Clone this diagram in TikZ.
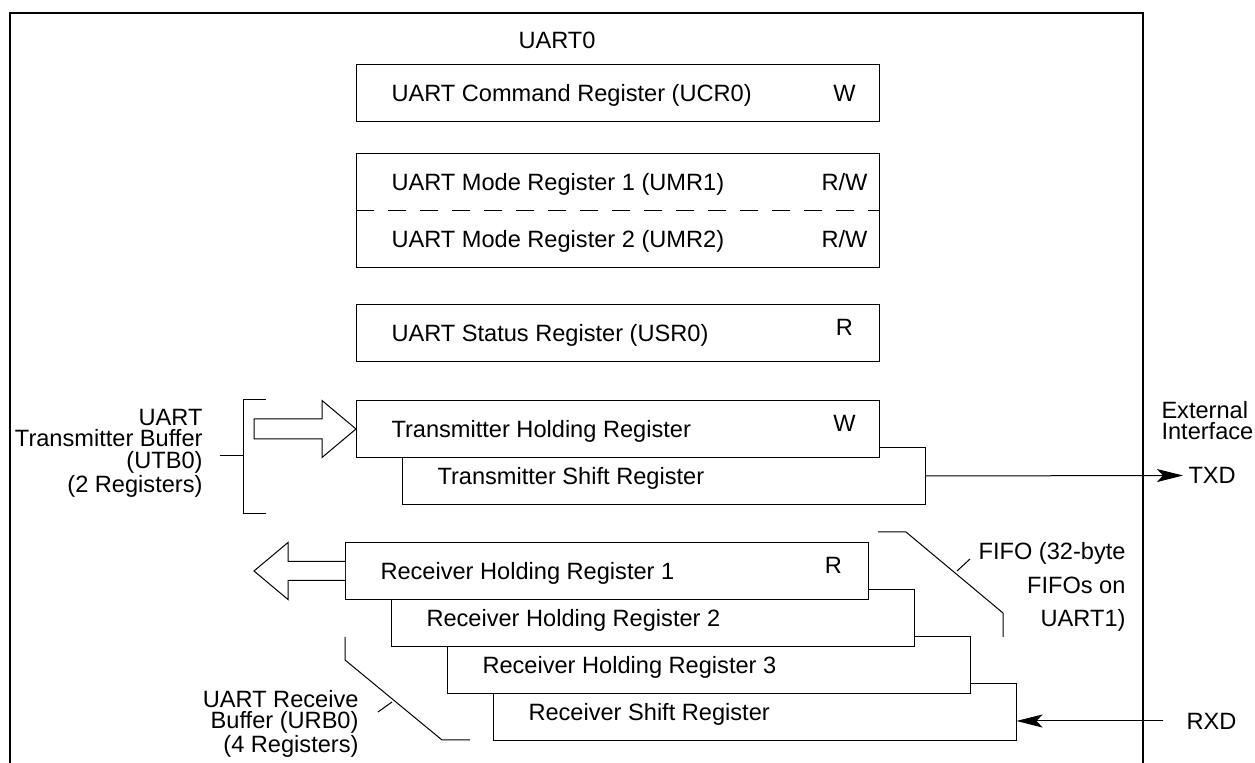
\documentclass[tikz,border=0pt]{standalone}
\usepackage{fontspec}
\setmainfont{Liberation Sans}
\usetikzlibrary{arrows.meta}

\tikzset{
  reg/.style={draw, fill=white, anchor=north west, inner sep=0pt,
    minimum width=261.25pt, minimum height=28.5pt},
  regname/.style={anchor=west, inner sep=0pt, text height=8.45pt, text depth=0pt},
  access/.style={inner sep=0pt, text height=8.45pt, text depth=0pt},
  sidelabel/.style={align=right, anchor=east, inner sep=0pt},
  hollow/.style={draw, fill=white, line join=miter},
  tip/.style={-{Stealth[length=13pt, width=6.5pt, inset=3pt]}},
}

\begin{document}
\begin{tikzpicture}[x=0.5pt, y=-0.5pt, line width=0.5pt,
  every node/.style={font=\fontsize{11.8}{10.75}\selectfont}]
\useasboundingbox (0,0) rectangle (1255,763);

% ---- UART0 frame ----
\draw[line width=0.7pt] (10,763) -- (10,13) -- (1143,13) -- (1143,763);
\node (uart) at (557,40) {UART0};

% ---- command, mode and status registers ----
\node[reg] (ucr) at (356,64) {};
\node[regname] (ucrname) at ([xshift=17.5pt]ucr.west) {UART Command Register (UCR0)};
\node[access] (ucracc) at ([xshift=-17.5pt]ucr.east) {W};

\node[reg] (umr) at (356,153) [minimum height=57pt] {};
\draw[dash pattern=on 9pt off 7pt] (umr.west) -- (umr.east);
\node[regname] (umr1) at ([xshift=17.5pt, yshift=14.25pt]umr.west) {UART Mode Register 1 (UMR1)};
\node[access] (umr1acc) at ([xshift=-17.5pt, yshift=14.25pt]umr.east) {R/W};
\node[regname] (umr2) at ([xshift=17.5pt, yshift=-14.25pt]umr.west) {UART Mode Register 2 (UMR2)};
\node[access] (umr2acc) at ([xshift=-17.5pt, yshift=-14.25pt]umr.east) {R/W};

\node[reg] (usr) at (356,304) {};
\node[regname] (usrname) at ([xshift=17.5pt]usr.west) {UART Status Register (USR0)};
\node[access] (usracc) at ([xshift=-17.5pt, yshift=3pt]usr.east) {R};

% ---- transmitter buffer ----
\node[reg] (tsr) at (402,447) {};
\node[regname] (tsrname) at ([xshift=17.5pt]tsr.west) {Transmitter Shift Register};
\node[reg] (thr) at (356,400) {};
\node[regname] (thrname) at ([xshift=17.5pt]thr.west) {Transmitter Holding Register};
\node[access] (thracc) at ([xshift=-17.5pt, yshift=3pt]thr.east) {W};

\draw[hollow] (thr.west) -- ++(-34,-28.5) -- ++(0,18.5) -- ++(-68,0)
  -- ++(0,20) -- ++(68,0) -- ++(0,18.5) -- cycle;

\draw (266,400) -- (243,400) -- (243,514) -- (266,514);
\draw (220,456) -- (243,456);
\node[sidelabel] (utb) at (203,453) {UART\\Transmitter Buffer\\(UTB0)\\(2 Registers)};

\node[anchor=west, inner sep=0pt, inner xsep=2.5pt] (txd) at (1183,475.5) {TXD};
\draw[tip] (tsr.east) -- (txd.west);
\node[align=left, anchor=west, inner sep=0pt, font=\fontsize{11.8}{10.5}\selectfont]
  (ext) at (1161,420.5) {External\\Interface};

% ---- receiver buffer ----
\node[reg] (rsr) at (493,683) {};
\node[regname] (rsrname) at ([xshift=17.5pt]rsr.west) {Receiver Shift Register};
\node[reg] (rhr3) at (447,636) {};
\node[regname] (rhr3name) at ([xshift=17.5pt]rhr3.west) {Receiver Holding Register 3};
\node[reg] (rhr2) at (391,589) {};
\node[regname] (rhr2name) at ([xshift=17.5pt]rhr2.west) {Receiver Holding Register 2};
\node[reg] (rhr1) at (345,542) {};
\node[regname] (rhr1name) at ([xshift=17.5pt]rhr1.west) {Receiver Holding Register 1};
\node[access] (rhr1acc) at ([xshift=-17.5pt, yshift=3pt]rhr1.east) {R};

\draw[hollow] ([yshift=4.75pt]rhr1.west) -- ++(-57,0) -- ++(0,-19) -- ++(-34,28.5)
  -- ++(34,28.5) -- ++(0,-19) -- ++(57,0);

\draw (345,637) -- (345,660) -- (442,740) -- (470,740);
\draw (378,712) -- (392,702);
\node[sidelabel, font=\fontsize{11.8}{10.75}\selectfont] (urb) at (359,724)
  {UART Receive\\Buffer (URB0)\\(4 Registers)};

\draw (878,532) -- (906,532) -- (1003,613) -- (1003,637);
\draw (957,571) -- (970,559);
\node[sidelabel, font=\fontsize{11.8}{16.75}\selectfont] (fifo) at (1126,587)
  {FIFO (32-byte\\FIFOs on\\UART1)};

\coordinate (rxdin) at (1163,721);
\node[anchor=west, inner sep=0pt] (rxd) at (1186,721) {RXD};
\draw[tip] (rxdin) -- (rxdin -| rsr.east);
\end{tikzpicture}
\end{document}
